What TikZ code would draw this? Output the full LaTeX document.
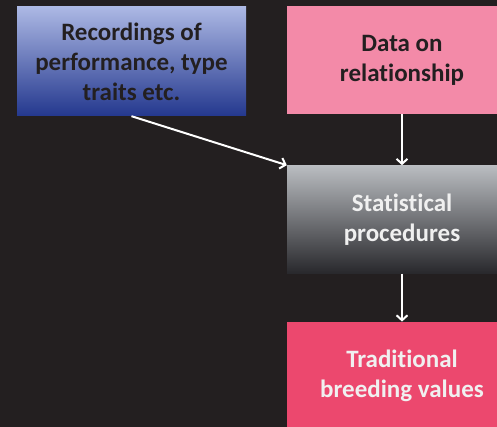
\documentclass[tikz,border=0pt]{standalone}
\usepackage{fontspec}
\setmainfont{Carlito}[RawFeature=-liga]
\usetikzlibrary{arrows.meta, positioning}
\definecolor{bgdark}{RGB}{35,31,32}
\definecolor{recblue}{RGB}{120,136,204}
\definecolor{reltop}{RGB}{172,184,228}
\definecolor{relbot}{RGB}{36,56,142}
\definecolor{relpink}{RGB}{243,138,168}
\definecolor{statgray}{RGB}{130,132,137}
\definecolor{tradred}{RGB}{236,72,110}

\begin{document}
\begin{tikzpicture}[x=1pt, y=1pt, font=\bfseries\fontsize{25}{30}\selectfont,
  box/.style={minimum width=230pt, minimum height=108pt, align=center, inner sep=0pt},
  flow/.style={white, line width=2pt, -{Straight Barb[length=5pt, width=11pt]}}]
  % Hintergrund
  \fill[bgdark] (0,0) rectangle (497,427);
  \clip (0,0) rectangle (497,427);

  % Eingaben
  \node[box, minimum width=229pt, minimum height=109pt, text=bgdark,
        top color=reltop, middle color=recblue, bottom color=relbot]
    (rec) at (131.5,365.5) {Recordings of\\performance, type\\traits etc.};
  \node[box, fill=relpink, text=bgdark] (rel) at (402,367) {Data on\\relationship};

  % Auswertung
  \node[box, below=51pt of rel, text=white!94!black,
        top color={rgb,255:red,186;green,189;blue,193}, middle color=statgray,
        bottom color={rgb,255:red,40;green,40;blue,44}]
    (stat) {Statistical\\procedures};
  \node[box, below=48pt of stat, fill=tradred, text=white!94!black]
    (trad) {Traditional\\breeding values};

  % Pfeile
  \draw[flow] (rec.south) -- (stat.north west);
  \draw[flow] (rel) -- (stat);
  \draw[flow] (stat) -- (trad);
\end{tikzpicture}
\end{document}
